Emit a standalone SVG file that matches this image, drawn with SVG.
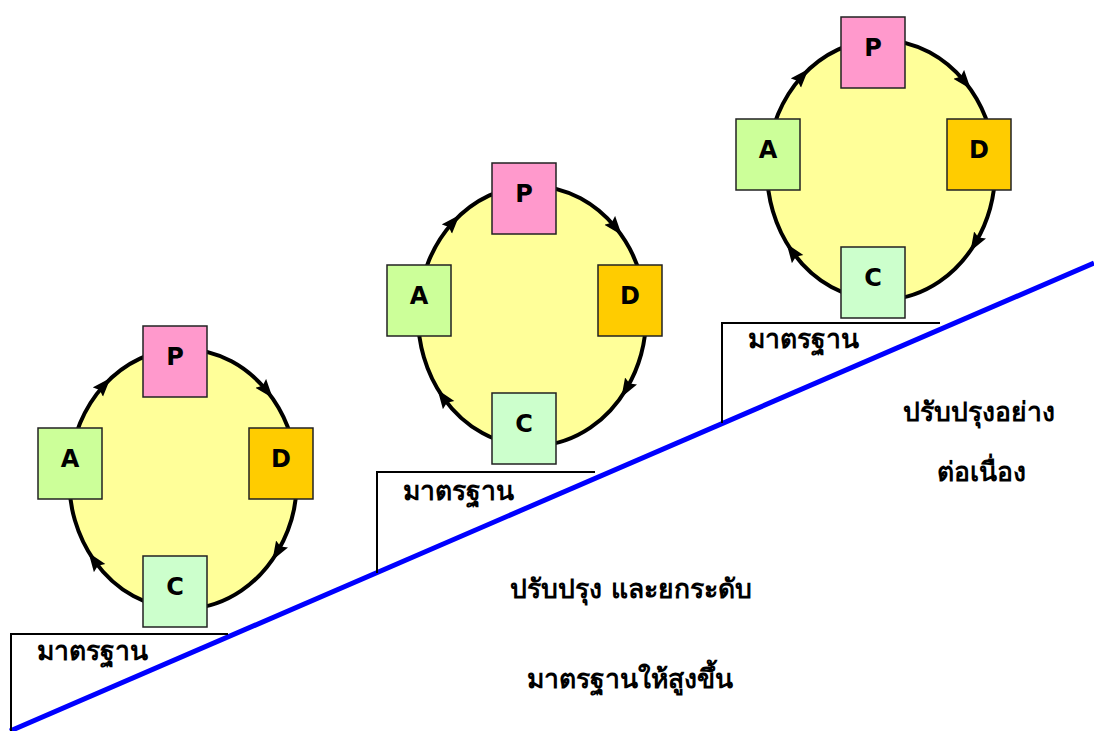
<svg xmlns="http://www.w3.org/2000/svg" width="1094" height="731" viewBox="0 0 1094 731">
<style>
.ell{fill:#FFFF99;stroke:none}
.ring{fill:none;stroke:#000;stroke-width:4;marker-start:url(#ah);marker-mid:url(#ah)}
.box{stroke:#222;stroke-width:1.5}
.p{fill:#FF99CC}.a{fill:#CCFF99}.d{fill:#FFCC00}.c{fill:#CCFFCC}
.lt{font-family:"DejaVu Sans","Liberation Sans",sans-serif;font-weight:bold;font-size:24px;text-anchor:middle;fill:#000}
.th{font-family:"DejaVu Sans","Noto Sans",sans-serif;font-weight:bold;font-size:26.5px;fill:#000}
.thc{text-anchor:middle}
.step{stroke:#000;stroke-width:2;fill:none}
.blue{stroke:#0000FF;stroke-width:5;fill:none}
</style>
<defs>
<marker id="ah" markerUnits="userSpaceOnUse" markerWidth="22" markerHeight="16" refX="9" refY="7" orient="auto">
<path d="M0,0 L19,7 L0,14 L3,7 z" fill="#000"/>
</marker>
<g id="cycle">
<ellipse class="ell" cx="40" cy="153" rx="114" ry="130"/>
<path class="ring" d="M-39.2,59.5 A114,130 0 0 1 123.4,64.3 A114,130 0 0 1 134.5,225.7 A114,130 0 0 1 -48.6,234.8 A114,130 0 0 1 -39.2,59.5"/>
<rect class="box p" x="0" y="0" width="64" height="71"/>
<text class="lt" x="32" y="39">P</text>
<rect class="box a" x="-105" y="102" width="64" height="71"/>
<text class="lt" x="-73" y="141">A</text>
<rect class="box d" x="106" y="102" width="64" height="71"/>
<text class="lt" x="138" y="141">D</text>
<rect class="box c" x="0" y="230" width="64" height="71"/>
<text class="lt" x="32" y="269">C</text>
</g>
</defs>
<g id="connectors">
<line class="blue" x1="10" y1="731" x2="1094" y2="263"/>
<polyline class="step" points="228,634 11,634 11,731"/>
<polyline class="step" points="595,472 377,472 377,573"/>
<polyline class="step" points="940,323 722,323 722,423"/>
</g>
<g id="cycle1"><use href="#cycle" transform="translate(143,326)"/></g>
<g id="cycle2"><use href="#cycle" transform="translate(492,163)"/></g>
<g id="cycle3"><use href="#cycle" transform="translate(841,17)"/></g>
<g id="labels">
<text class="th" x="37" y="660">มาตรฐาน</text>
<text class="th" x="403" y="500">มาตรฐาน</text>
<text class="th" x="748" y="348">มาตรฐาน</text>
<text class="th thc" x="979" y="421">ปรับปรุงอย่าง</text>
<text class="th thc" x="981" y="481">ต่อเนื่อง</text>
<text class="th thc" x="631" y="598">ปรับปรุง และยกระดับ</text>
<text class="th thc" x="630" y="688">มาตรฐานให้สูงขึ้น</text>
</g>
</svg>
